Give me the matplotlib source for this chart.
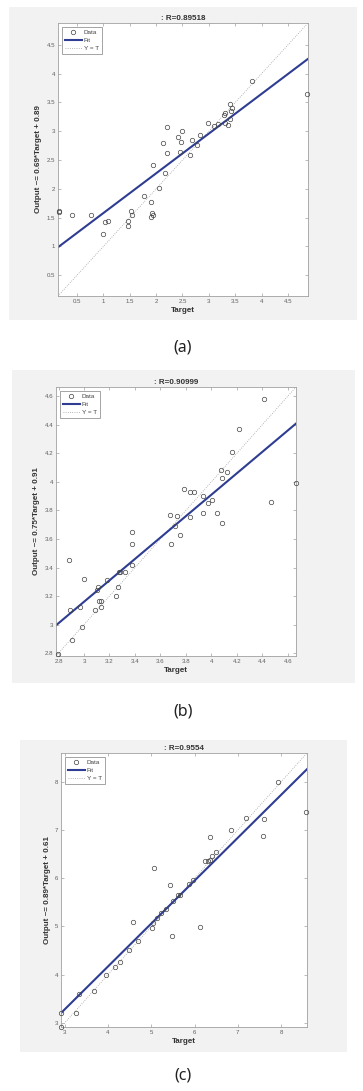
import matplotlib
matplotlib.use("Agg")
import matplotlib.pyplot as plt
from matplotlib.patches import Rectangle
from matplotlib.ticker import FuncFormatter
import numpy as np

# ---------------- data ----------------
target_a = [3.82, 4.87, 3.40, 3.44, 3.42, 3.30, 3.29, 3.41, 3.31, 3.36, 2.98, 3.10, 3.17,
            2.21, 2.50, 2.41, 2.47, 2.84, 2.69, 2.78, 2.13, 2.20, 2.45, 2.64, 1.94, 2.17,
            2.06, 1.78, 1.91, 0.15, 0.16, 0.41, 0.76, 1.53, 1.55, 1.04, 1.09, 1.00, 1.46,
            1.46, 1.93, 1.95, 1.91]
output_a = [3.88, 3.65, 3.47, 3.40, 3.36, 3.32, 3.29, 3.22, 3.15, 3.11, 3.14, 3.10, 3.12,
            3.07, 3.01, 2.90, 2.81, 2.93, 2.84, 2.77, 2.79, 2.62, 2.64, 2.59, 2.41, 2.28,
            2.01, 1.88, 1.78, 1.61, 1.59, 1.54, 1.54, 1.61, 1.55, 1.42, 1.45, 1.22, 1.44,
            1.36, 1.58, 1.55, 1.51]

target_b = [4.417, 4.218, 4.166, 4.665, 4.077, 4.121, 4.087, 4.469, 3.786, 3.836, 3.862,
            3.936, 3.972, 4.006, 3.933, 4.043, 4.085, 3.677, 3.729, 3.716, 3.833, 3.752,
            3.376, 3.376, 3.682, 2.884, 2.999, 3.182, 3.109, 3.100, 3.271, 3.284, 3.323,
            3.373, 3.268, 3.250, 3.114, 3.130, 3.135, 3.090, 2.970, 2.892, 2.983, 2.905,
            2.795]
output_b = [4.580, 4.374, 4.212, 3.993, 4.082, 4.071, 4.024, 3.861, 3.953, 3.932, 3.932,
            3.904, 3.852, 3.871, 3.781, 3.781, 3.713, 3.769, 3.762, 3.692, 3.753, 3.631,
            3.650, 3.563, 3.565, 3.453, 3.322, 3.315, 3.265, 3.240, 3.366, 3.366, 3.366,
            3.415, 3.263, 3.202, 3.163, 3.167, 3.123, 3.104, 3.123, 3.104, 2.985, 2.894,
            2.795]

target_c = [7.92, 8.58, 7.19, 7.60, 7.58, 6.84, 6.35, 6.50, 6.41, 6.25, 6.31, 6.35, 5.05,
            5.96, 5.86, 5.42, 5.62, 5.66, 5.49, 5.33, 5.22, 5.12, 5.04, 5.01, 4.58, 6.12,
            5.48, 4.68, 4.48, 4.27, 4.15, 3.95, 3.68, 3.33, 3.25, 2.91, 2.91]
output_c = [8.00, 7.37, 7.26, 7.23, 6.88, 7.00, 6.85, 6.55, 6.46, 6.36, 6.35, 6.38, 6.22,
            5.96, 5.87, 5.85, 5.65, 5.65, 5.53, 5.37, 5.28, 5.17, 5.07, 4.97, 5.10, 4.98,
            4.79, 4.70, 4.50, 4.27, 4.15, 3.98, 3.65, 3.59, 3.21, 3.20, 2.91]

slopes = [0.69, 0.75, 0.89]
intercepts = [0.89, 0.91, 0.61]
r_values = ["0.89518", "0.90999", "0.9554"]
panel_labels = ["(a)", "(b)", "(c)"]

# ---------------- layout ----------------
W, H = 363, 1091
fig = plt.figure(figsize=(W / 100, H / 100), dpi=100)
fig.patch.set_facecolor("white")

panels = [
    dict(bg=(9, 7, 357, 320), ax=(58, 23, 308, 296), lim=(0.14, 4.88),
         ticks=np.arange(0.5, 4.51, 0.5), lab_y=347),
    dict(bg=(12, 370, 355, 683), ax=(56, 387, 296, 656), lim=(2.78, 4.665),
         ticks=np.arange(2.8, 4.61, 0.2), lab_y=712),
    dict(bg=(20, 740, 347, 1052), ax=(61, 753, 307, 1027), lim=(2.91, 8.6),
         ticks=np.arange(3, 8.01, 1.0), lab_y=1076),
]
datasets = [(target_a, output_a), (target_b, output_b), (target_c, output_c)]

fmt = FuncFormatter(lambda v, p: f"{v:g}")
font = "Liberation Sans"
gray_axis = "#a0a0a0"
tick_col = "#606060"

for i, (p, (t, o)) in enumerate(zip(panels, datasets)):
    x0, y0, x1, y1 = p["bg"]
    fig.patches.append(Rectangle((x0 / W, 1 - y1 / H), (x1 - x0) / W, (y1 - y0) / H,
                                 transform=fig.transFigure, facecolor="#f2f2f3",
                                 edgecolor="none", zorder=-5))
    ax0, ay0, ax1, ay1 = p["ax"]
    ax = fig.add_axes([ax0 / W, 1 - ay1 / H, (ax1 - ax0) / W, (ay1 - ay0) / H])
    ax.set_zorder(2)
    ax.set_facecolor("white")
    lo, hi = p["lim"]
    xs = np.array([lo, hi])
    ax.plot(t, o, linestyle="none", marker="o", markersize=3.2, markerfacecolor="none",
            markeredgecolor="#444444", markeredgewidth=0.5, label="Data", zorder=3,
            clip_on=False)
    ax.plot(xs, slopes[i] * xs + intercepts[i], color="#2e3d91", linewidth=1.5,
            label="Fit", zorder=2)
    ax.plot(xs, xs, color="#a0a0a0", linestyle=":", linewidth=0.6, label="Y = T", zorder=1)
    ax.set_xlim(lo, hi)
    ax.set_ylim(lo, hi)
    ax.set_xticks(p["ticks"])
    ax.set_yticks(p["ticks"])
    ax.xaxis.set_major_formatter(fmt)
    ax.yaxis.set_major_formatter(fmt)
    ax.tick_params(direction="in", length=2.5, width=0.5, colors=gray_axis,
                   labelcolor=tick_col, labelsize=4.4, top=True, right=True, pad=2)
    for lbl in ax.get_xticklabels() + ax.get_yticklabels():
        lbl.set_fontfamily(font)
    for s in ax.spines.values():
        s.set_color(gray_axis)
        s.set_linewidth(0.6)
    ax.set_title(f": R={r_values[i]}", fontsize=5.8, fontweight="bold",
                 fontfamily=font, color="#333333", pad=2)
    ax.set_xlabel("Target", fontsize=5.8, fontweight="bold", fontfamily=font,
                  color="#333333", labelpad=2)
    ax.set_ylabel(f"Output ~= {slopes[i]:.2f}*Target + {intercepts[i]:.2f}",
                  fontsize=5.8, fontweight="bold", fontfamily=font, color="#333333",
                  labelpad=3)
    leg = ax.legend(loc="upper left", frameon=True, fancybox=False,
                    edgecolor="#606060", handlelength=2.6, handletextpad=0.3,
                    borderpad=0.5, labelspacing=0.35, borderaxespad=0.6,
                    prop={"family": font, "size": 4.6})
    leg.get_frame().set_linewidth(0.5)
    for txt in leg.get_texts():
        txt.set_color("#444444")
    cx = (x0 + x1) / 2 / W
    fig.text(cx, 1 - p["lab_y"] / H, panel_labels[i], ha="center", va="center",
             fontsize=11.5, fontfamily="Noto Sans", color="#222222")

fig.savefig("out.png", dpi=100, facecolor="white")
